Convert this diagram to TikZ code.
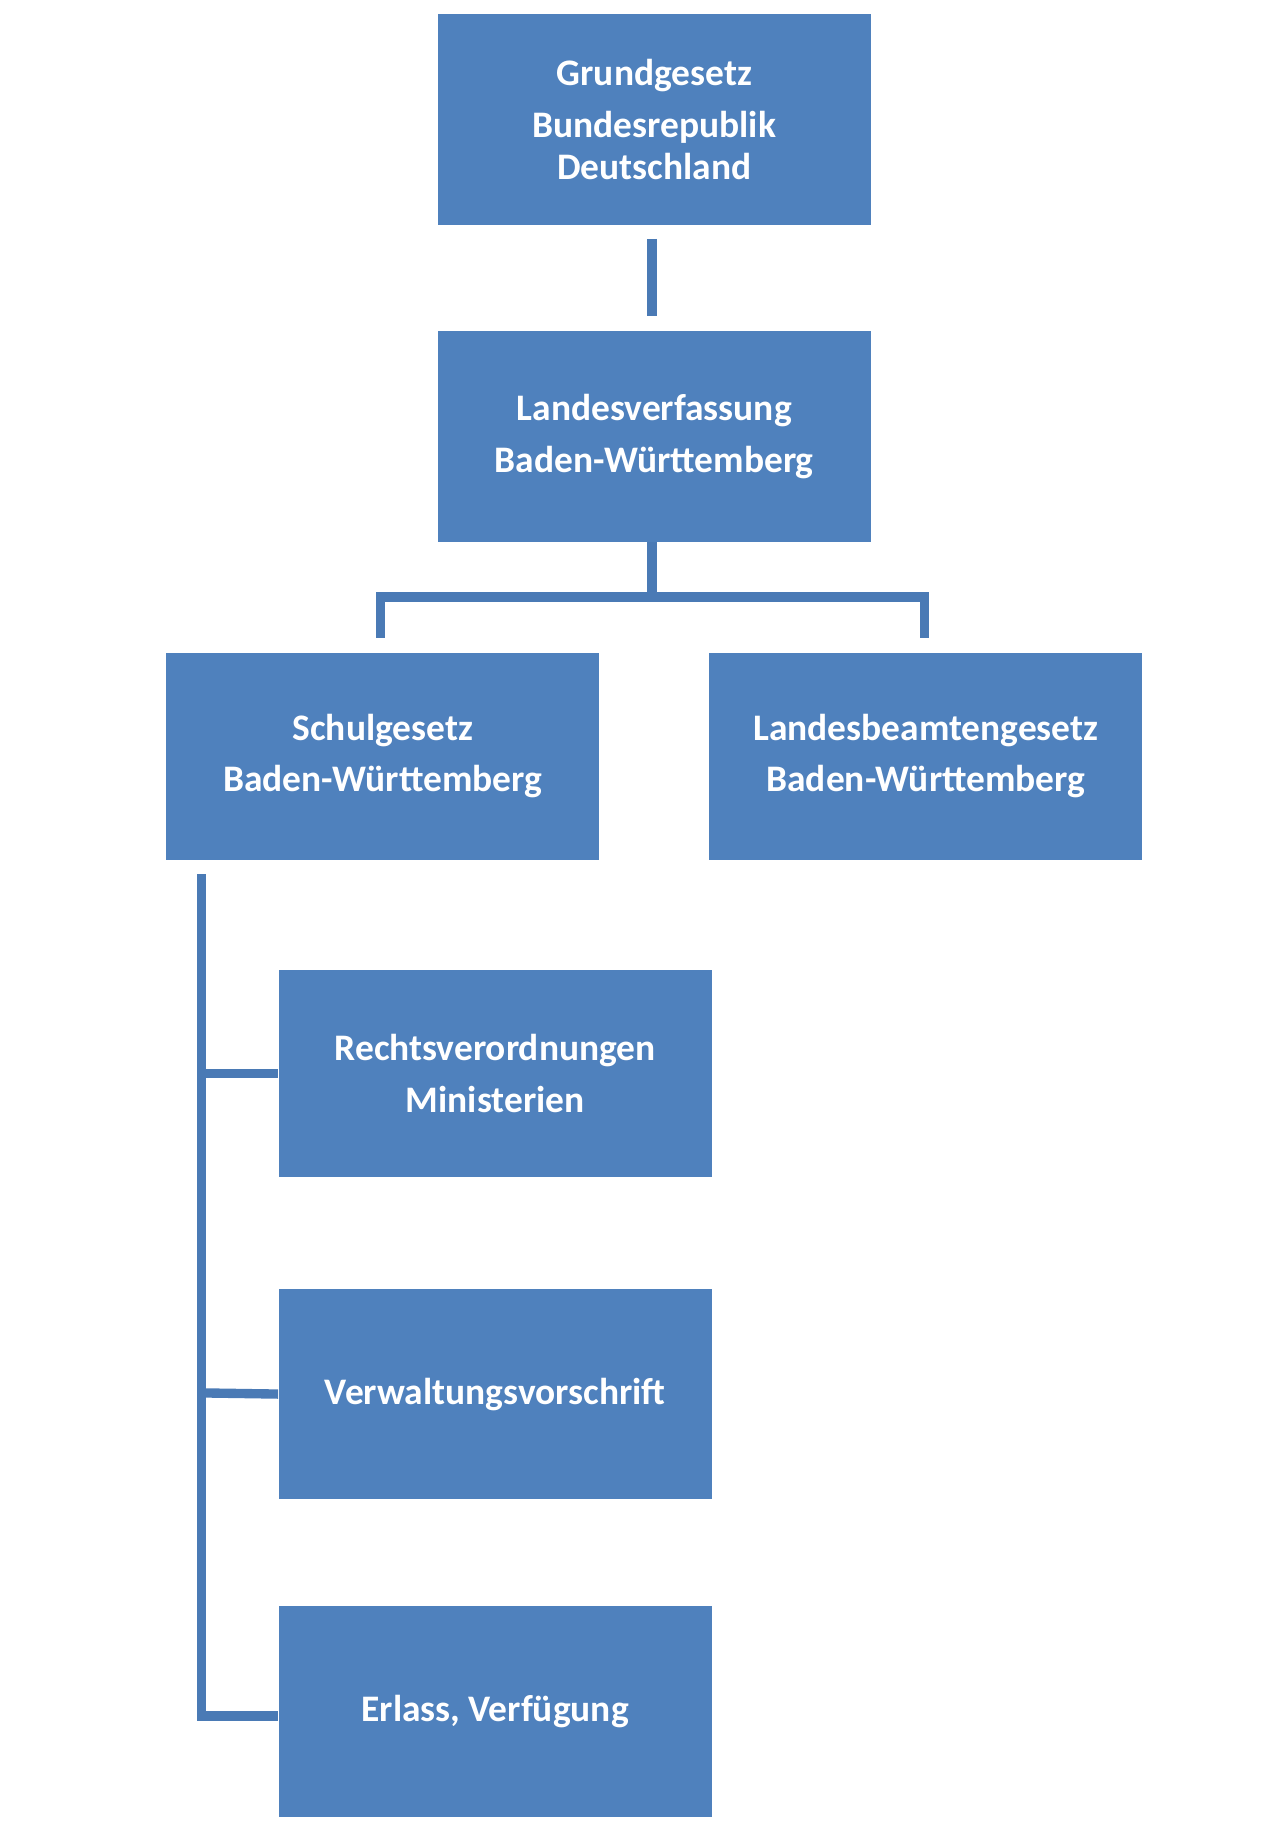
\documentclass[tikz,border=0pt]{standalone}
\usepackage{fontspec}
\setmainfont{Carlito}
\begin{document}
\begin{tikzpicture}[x=0.5pt,y=-0.5pt,
  box/.style={fill=boxc,draw=none,text=white,font=\bfseries\fontsize{16}{18}\selectfont,align=center,inner sep=0pt},
  conn/.style={draw=linec,line width=4pt}]
\definecolor{boxc}{HTML}{4F81BD}
\definecolor{linec}{HTML}{4A7AB5}
\useasboundingbox (0,0) rectangle (1090,1566);
\node[box,minimum width=185pt,minimum height=90pt] (g) at (559,102) {Grundgesetz\\[4pt]Bundesrepublik\\Deutschland};
\node[box,minimum width=185pt,minimum height=90pt] (l) at (559,373) {Landesverfassung\\[4pt]Baden-Württemberg};
\node[box,minimum width=185pt,minimum height=88.5pt] (s) at (327,646) {Schulgesetz\\[4pt]Baden-Württemberg};
\node[box,minimum width=185pt,minimum height=88.5pt] (b) at (791,646) {Landesbeamtengesetz\\[4pt]Baden-Württemberg};
\node[box,minimum width=185pt,minimum height=88.5pt] (r) at (423,917) {Rechtsverordnungen\\[4pt]Ministerien};
\node[box,minimum width=185pt,minimum height=90pt] (v) at (423,1191) {Verwaltungsvorschrift};
\node[box,minimum width=185pt,minimum height=90pt] (e) at (423,1462) {Erlass, Verfügung};
\coordinate (gt) at (557,204); \coordinate (lt) at (557,270);
\draw[conn] (gt) -- (lt);
\coordinate (m) at (557,510);
\draw[conn] (l.south -| m) -- (m);
\draw[conn] (325,545) -- (325,510) -- (790,510) -- (790,545);
\coordinate (vs) at (172,747); \coordinate (ve) at (172,1466);
\draw[conn] (vs) -- (ve) -- (e.west |- ve);
\draw[conn] (172,917) -- (r.west);
\draw[conn] (172,1190) -- (v.west);
\end{tikzpicture}
\end{document}
